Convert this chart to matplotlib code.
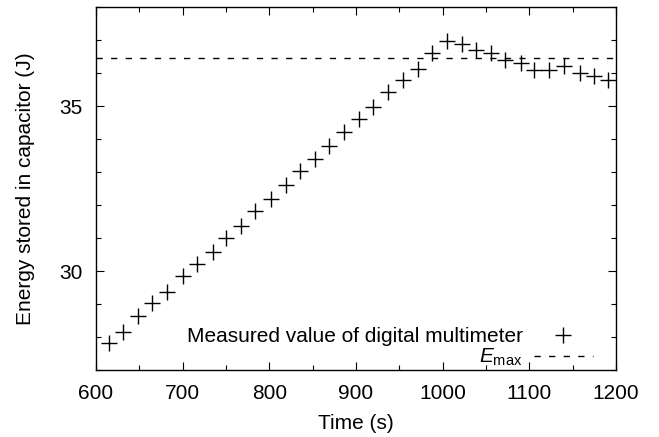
import matplotlib
matplotlib.use("Agg")
import matplotlib.pyplot as plt
from matplotlib.ticker import MultipleLocator

plt.rcParams['font.family'] = ['Liberation Sans', 'DejaVu Sans']
plt.rcParams['mathtext.fontset'] = 'custom'
plt.rcParams['mathtext.rm'] = 'Liberation Sans'
plt.rcParams['mathtext.it'] = 'Liberation Sans:italic'

time_s = [615, 631, 649, 665, 682, 700, 716, 735, 750, 767, 784, 802,
          819, 835, 853, 869, 886, 904, 920, 937, 954, 971, 988, 1005,
          1022, 1039, 1056, 1072, 1090, 1105, 1123, 1140, 1158, 1175, 1191]
energy_J = [27.83, 28.16, 28.64, 29.04, 29.38, 29.85, 30.20, 30.59, 30.99,
            31.38, 31.82, 32.19, 32.61, 33.03, 33.41, 33.79, 34.23, 34.60,
            34.98, 35.43, 35.78, 36.14, 36.62, 36.97, 36.89, 36.72, 36.62,
            36.41, 36.31, 36.11, 36.09, 36.21, 36.01, 35.91, 35.81]
e_max = 36.47

fs = 15

fig = plt.figure(figsize=(6.59, 4.37), dpi=100)
ax = fig.add_axes([0.1457, 0.1533, 0.789, 0.830])

ax.plot(time_s, energy_J, linestyle='none', marker='+', markersize=11,
        markeredgewidth=1.0, color='black',
        label='Measured value of digital multimeter')
ax.axhline(e_max, color='black', linewidth=1.0, dashes=(4.5, 6),
           label=r'$E_{\rm max}$')

ax.set_xlim(600, 1200)
ax.set_ylim(27, 38)
ax.set_xticks([600, 700, 800, 900, 1000, 1100, 1200])
ax.set_yticks([30, 35])
ax.xaxis.set_minor_locator(MultipleLocator(50))
ax.yaxis.set_minor_locator(MultipleLocator(1))
ax.tick_params(which='both', direction='in', top=True, right=True,
               labelsize=fs, width=0.8)
ax.tick_params(which='major', length=6, pad=10)
ax.tick_params(which='minor', length=3.5)
for s in ax.spines.values():
    s.set_linewidth(1.0)

ax.set_xlabel('Time (s)', fontsize=fs, labelpad=8)
ax.set_ylabel('Energy stored in capacitor (J)', fontsize=fs, labelpad=17)

ax.legend(loc='lower right', bbox_to_anchor=(0.955, 0.005), frameon=False,
          markerfirst=False, fontsize=fs, handlelength=2.8,
          handletextpad=0.55, borderpad=0, borderaxespad=0, labelspacing=0.05)

plt.savefig('out.png', dpi=100)
